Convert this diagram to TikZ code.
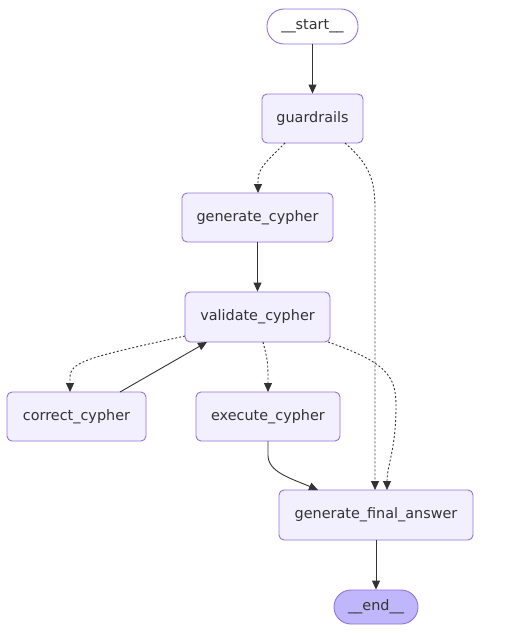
\documentclass[tikz,border=0pt]{standalone}
\usepackage{fontspec}
\setmainfont{DejaVu Sans}
\usetikzlibrary{arrows.meta}
\definecolor{nodefill}{HTML}{F2F0FF}
\definecolor{nodestroke}{HTML}{9370DB}
\definecolor{endfill}{HTML}{BFB6FC}
\definecolor{edgecol}{HTML}{333333}
\begin{document}
\begin{tikzpicture}[x=1pt,y=-1pt,
  box/.style={draw=nodestroke,fill=nodefill,line width=0.9pt,rounded corners=5pt,
    minimum height=49pt,inner sep=0pt,font=\fontsize{14.4}{16}\selectfont,text=edgecol},
  pill/.style={draw=nodestroke,line width=0.9pt,rounded corners=17pt,
    minimum height=35pt,inner sep=0pt,font=\fontsize{14.4}{16}\selectfont,text=edgecol},
  edge/.style={draw=edgecol,line width=0.9pt,-{Triangle[length=9pt,width=8pt]}},
  dot/.style={edge,dash pattern=on 2pt off 2pt}]
\useasboundingbox (0,0) rectangle (521,634);
\node[pill,fill=white,minimum width=91pt] (start) at (312.5,26.5) {\_\_start\_\_};
\node[box,minimum width=101pt] (guard) at (312.5,118.5) {guardrails};
\node[box,minimum width=151pt] (gen) at (257.5,217.5) {generate\_cypher};
\node[box,minimum width=145pt,minimum height=50pt] (val) at (257.5,317) {validate\_cypher};
\node[box,minimum width=139pt] (corr) at (76.5,416.5) {correct\_cypher};
\node[box,minimum width=144pt] (exec) at (268,416.5) {execute\_cypher};
\node[box,minimum width=194pt,minimum height=50pt] (final) at (376,515) {generate\_final\_answer};
\node[pill,fill=endfill,minimum width=84pt,minimum height=34pt] (end) at (376,607) {\_\_end\_\_};

\coordinate (g1) at (285,143);
\coordinate (g2) at (345,143);
\coordinate (v1) at (185,336);
\coordinate (v2) at (263,342);
\coordinate (v3) at (328,342);
\coordinate (v4) at (207,342);
\coordinate (c1) at (120,392);
\coordinate (e1) at (268,441);
\coordinate (gcN) at (258,193);
\coordinate (ccN) at (70,392);
\coordinate (ecN) at (268,392);
\coordinate (fa1) at (318,490);
\coordinate (fa2) at (375,490);
\coordinate (fa3) at (387,490);

\draw[edge] (start) -- (guard);
\draw[dot] (g1) .. controls (268,160) and (258,168) .. (258,180) -- (gcN);
\draw[dot] (g2) .. controls (370,165) and (375,180) .. (375,210) -- (fa2);
\draw[edge] (gen) -- (val);
\draw[dot] (v1) .. controls (85,358) and (70,362) .. (70,378) -- (ccN);
\draw[edge] (c1) -- (v4);
\draw[dot] (v2) .. controls (268,362) .. (ecN);
\draw[dot] (v3) .. controls (385,362) and (396,375) .. (396,405) .. controls (396,450) and (387,465) .. (fa3);
\draw[edge] (e1) -- (268,455) .. controls (268,472) and (290,478) .. (fa1);
\draw[edge] (final) -- (end);
\end{tikzpicture}
\end{document}
